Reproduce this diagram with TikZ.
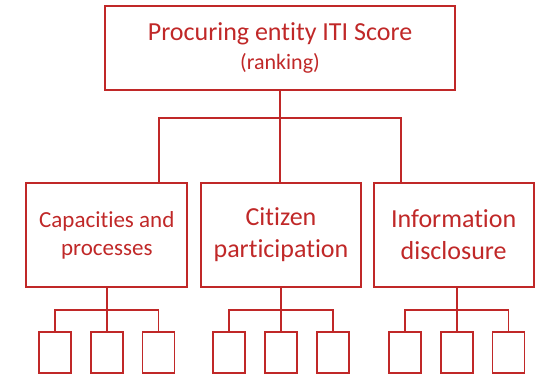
\documentclass[tikz,border=0pt]{standalone}
\usepackage{fontspec}
\setmainfont{Carlito}[Ligatures=NoCommon]
\usepackage{tikz}
\usetikzlibrary{positioning}
\definecolor{itired}{RGB}{192,40,40}
\tikzset{
  box/.style = {draw=itired, line width=1.7pt, text=itired, align=center,
    inner sep=0pt},
  score/.style = {box, minimum width=350pt, minimum height=84pt,
    font=\fontsize{26}{29}\selectfont},
  dim/.style = {box, minimum width=160pt, minimum height=104pt,
    font=\fontsize{26}{32}\selectfont},
  leaf/.style = {box, minimum width=32pt, minimum height=41pt}
}

\begin{document}
\begin{tikzpicture}[x=1pt, y=1pt, line width=1.7pt, draw=itired]
\useasboundingbox (0,0) rectangle (541,374);
\node [score] (iti) at (280,326) {Procuring entity ITI Score\\
  {\fontsize{22}{29}\selectfont (ranking)}};
\node [dim] (cit) at (281,139) {Citizen\\participation};
\node [dim, left=12pt of cit, minimum width=161pt,
  font=\fontsize{23}{28}\selectfont] (cap) {Capacities and\\processes};
\node [dim, right=11pt of cit] (info) {Information\\disclosure};
% top level connectors
\coordinate [below=27pt of iti] (bus);
\draw (iti.south) -- (bus);
\draw (bus) -| ([xshift=52.5pt]cap.north);
\draw (bus) -- (bus |- cit.north);
\draw (bus) -| ([xshift=-53pt]info.north);
% leaves under each dimension
\foreach \g/\dx in {cap/0, cit/0, info/3} {
  \node [leaf, below=43pt of \g, xshift=\dx pt] (\g-2) {};
  \node [leaf, left=18pt of \g-2] (\g-1) {};
  \node [leaf, right=18pt of \g-2] (\g-3) {};
  \draw (\g.south -| \g-2.north) -- ++(0,-22) coordinate (\g-bus);
  \draw (\g-bus) -| (\g-1.north);
  \draw (\g-bus) -- (\g-2.north);
  \draw (\g-bus) -| (\g-3.north);
}
\end{tikzpicture}
\end{document}
